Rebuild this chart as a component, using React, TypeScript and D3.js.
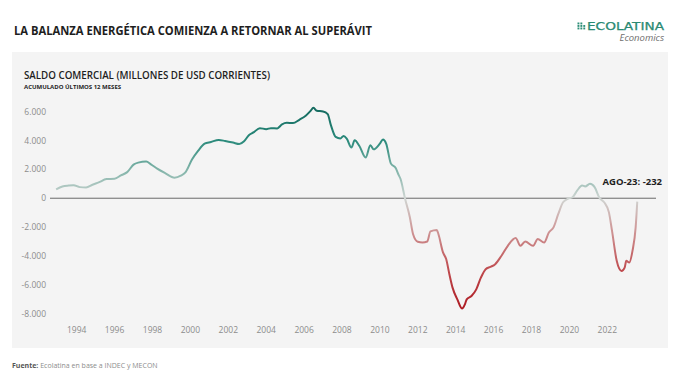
import React from "react";
import * as d3 from "d3";

const dates: string[] = [
  "1992-12","1993-04","1993-08","1993-11","1994-03","1994-07","1994-11","1995-03","1995-08","1996-01",
  "1996-05","1996-09","1997-01","1997-04","1997-09","1997-12","1998-04","1998-09","1999-03","1999-07",
  "1999-10","2000-02","2000-06","2000-10","2001-02","2001-07","2001-11","2002-04","2002-08","2002-11",
  "2003-02","2003-05","2003-09","2004-01","2004-04","2004-08","2004-11","2005-02","2005-06","2005-10",
  "2006-02","2006-05","2006-07","2006-09","2007-01","2007-04","2007-06","2007-09","2007-12","2008-02",
  "2008-04","2008-07","2008-09","2008-12","2009-04","2009-07","2009-09","2010-01","2010-03","2010-05",
  "2010-08","2010-11","2011-01","2011-02","2011-05","2011-08","2011-10","2012-01","2012-04","2012-07",
  "2012-09","2013-01","2013-02","2013-05","2013-07","2013-09","2013-11","2014-02","2014-05","2014-07",
  "2014-08","2014-11","2015-02","2015-05","2015-08","2015-11","2016-02","2016-06","2016-10","2017-03",
  "2017-06","2017-09","2018-02","2018-05","2018-09","2018-12","2019-03","2019-06","2019-09","2019-12",
  "2020-03","2020-06","2020-09","2020-11","2021-02","2021-05","2021-08","2021-11","2022-02","2022-04",
  "2022-07","2022-10","2022-12","2023-01","2023-03","2023-05","2023-07","2023-08",
];

const values: number[] = [
  610, 815, 880, 905, 770, 745, 935, 1095, 1325, 1350,
  1580, 1810, 2330, 2470, 2540, 2350, 2050, 1740, 1420, 1560,
  1810, 2680, 3300, 3780, 3900, 4040, 3970, 3860, 3760, 3950,
  4370, 4560, 4860, 4790, 4860, 4840, 5120, 5230, 5210, 5440,
  5720, 6040, 6270, 6060, 6020, 5830, 5070, 4250, 4140, 4320,
  4140, 3510, 4020, 3620, 2820, 3670, 3390, 3790, 4070, 3790,
  2400, 2090, 1580, 1350, -40, -1320, -2480, -3020, -3070, -3000,
  -2300, -2200, -2480, -3760, -4220, -5270, -6200, -7010, -7640, -7320,
  -7010, -6780, -6320, -5510, -4920, -4760, -4570, -3990, -3300, -2760,
  -3300, -3000, -3300, -2830, -3070, -2370, -2020, -1090, -280, -40,
  70, 540, 885, 815, 1000, 770, 30, -280, -980, -2250,
  -4340, -5040, -4810, -4340, -4460, -3650, -2020, -232,
];

const yTicks: number[] = [6000, 4000, 2000, 0, -2000, -4000, -6000, -8000];
const xTickYears: number[] = [1994, 1996, 1998, 2000, 2002, 2004, 2006, 2008, 2010, 2012, 2014, 2016, 2018, 2020, 2022];

const colorValues: number[] = [6300, 4000, 2000, 0, -2000, -5000, -7700];
const colorStops: string[] = ["#146a5f", "#2a8a7b", "#7fb3a8", "#cfd5d2", "#cf9c9c", "#bf4a4e", "#ad1a22"];

const fmt = (v: number) => d3.format(",")(v).replace(/,/g, ".").replace(/\u2212/g, "-");

export default function App() {
  const W = 680, H = 385;
  const parse = d3.timeParse("%Y-%m");
  const data = dates.map((d, i) => ({ date: parse(d) as Date, value: values[i] }));

  const x = d3.scaleTime()
    .domain([new Date(1994, 0, 1), new Date(2024, 0, 1)])
    .range([76.7, 76.7 + 30 * 18.95]);
  const y = d3.scaleLinear().domain([-8000, 6000]).range([313.6, 111.7]);

  const line = d3.line<{ date: Date; value: number }>()
    .x(d => x(d.date))
    .y(d => y(d.value))
    .curve(d3.curveMonotoneX);

  const gy1 = y(colorValues[0]);
  const gy2 = y(colorValues[colorValues.length - 1]);
  const last = data[data.length - 1];
  const font = "'Open Sans', 'Noto Sans', sans-serif";
  const dots: [number, number][] = [[0, 0], [0, 1], [0, 2], [1, 0], [1, 1], [1, 2], [2, 1], [2, 2]];

  return (
    <div style={{ position: "fixed", left: 0, top: 0, width: W, height: H, background: "#fff" }}>
      <svg width={W} height={H} style={{ display: "block" }}>
        <rect x={0} y={0} width={W} height={H} fill="#ffffff" />
        <text x={14} y={35} fontFamily={font} fontWeight={700} fontSize={11.5} fill="#1e1e1e"
          textLength={358} lengthAdjust="spacingAndGlyphs">
          LA BALANZA ENERGÉTICA COMIENZA A RETORNAR AL SUPERÁVIT
        </text>
        {/* logo */}
        <g fill="#2f8f78">
          {dots.map(([c, r]) => (
            <rect key={`${r}-${c}`} x={577.5 + c * 2.9} y={22.5 + r * 2.5} width={1.9} height={1.9} />
          ))}
        </g>
        <text x={587} y={29.5} fontFamily="'DejaVu Sans', sans-serif" fontSize={9.8} fill="#2a8a73"
          stroke="#2a8a73" strokeWidth={0.25} textLength={77} lengthAdjust="spacingAndGlyphs">
          ECOLATINA
        </text>
        <text x={664} y={40.5} textAnchor="end" fontFamily={font} fontStyle="italic" fontSize={9.5} fill="#6e6e6e">
          Economics
        </text>

        {/* panel */}
        <rect x={12} y={52} width={656} height={296} fill="#f4f4f4" />
        <text x={24} y={79} fontFamily={font} fontWeight={600} fontSize={10} fill="#1e1e1e"
          textLength={246} lengthAdjust="spacingAndGlyphs">
          SALDO COMERCIAL (MILLONES DE USD CORRIENTES)
        </text>
        <text x={24} y={88.5} fontFamily={font} fontWeight={700} fontSize={6} fill="#1e1e1e">
          ACUMULADO ÚLTIMOS 12 MESES
        </text>

        {yTicks.map(t => (
          <text key={t} x={46} y={y(t) + 3} textAnchor="end" fontFamily={font} fontSize={8.5} fill="#8c8c8c">
            {fmt(t)}
          </text>
        ))}
        {xTickYears.map(yr => (
          <text key={yr} x={x(new Date(yr, 0, 1))} y={333} textAnchor="middle" fontFamily={font} fontSize={8.5} fill="#8c8c8c">
            {yr}
          </text>
        ))}

        <line x1={50} x2={656} y1={y(0)} y2={y(0)} stroke="#6a6a6a" strokeWidth={1} />

        <defs>
          <linearGradient id="lineGrad" gradientUnits="userSpaceOnUse" x1={0} x2={0} y1={gy1} y2={gy2}>
            {colorValues.map((v, i) => (
              <stop key={v} offset={(y(v) - gy1) / (gy2 - gy1)} stopColor={colorStops[i]} />
            ))}
          </linearGradient>
        </defs>
        <path d={line(data) ?? ""} fill="none" stroke="url(#lineGrad)" strokeWidth={2} strokeLinejoin="round" />

        <text x={662} y={185} textAnchor="end" fontFamily={font} fontWeight={700} fontSize={9.5} fill="#1e1e1e">
          {`AGO-23: ${fmt(last.value)}`}
        </text>

        <text x={12} y={368} fontFamily={font} fontSize={7} fill="#8c8c8c">
          <tspan fontWeight={700} fill="#555">Fuente:</tspan> Ecolatina en base a INDEC y MECON
        </text>
      </svg>
    </div>
  );
}
